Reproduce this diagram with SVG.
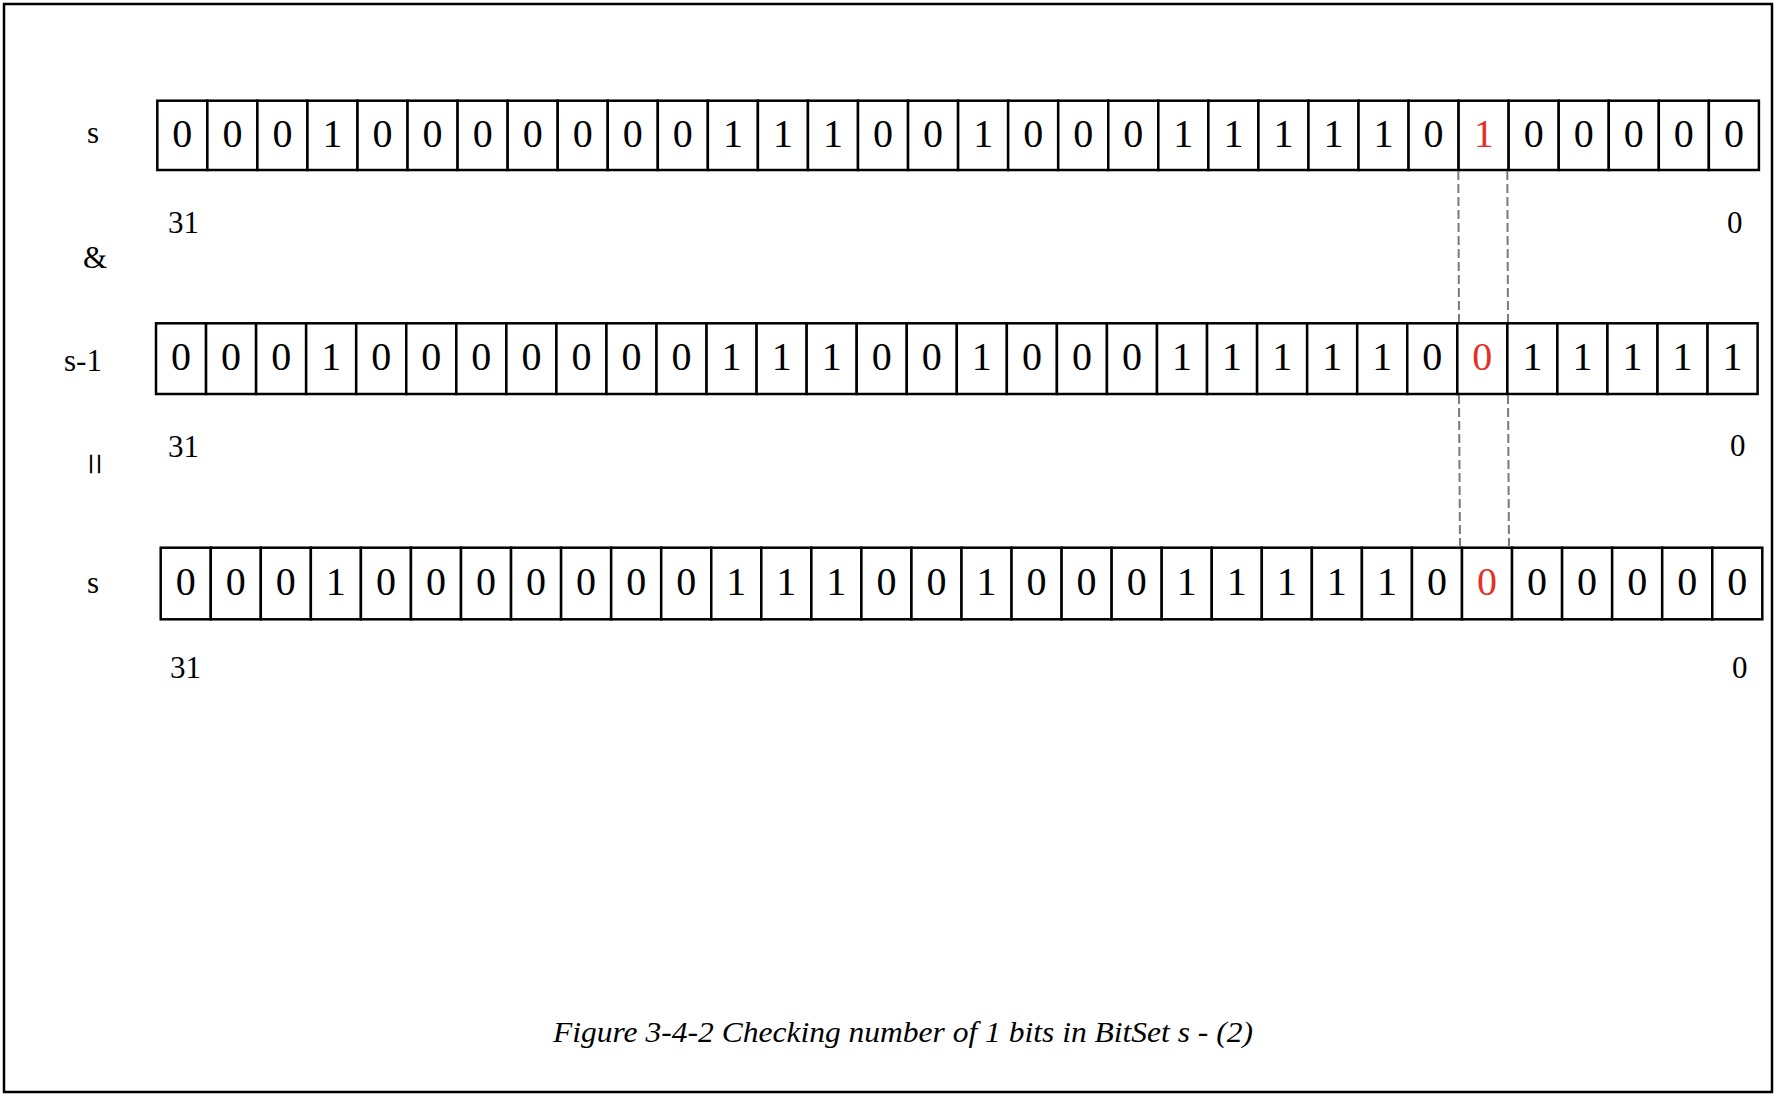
<svg xmlns="http://www.w3.org/2000/svg" xmlns:xlink="http://www.w3.org/1999/xlink" width="1776" height="1096" viewBox="0 0 1776 1096">
<style>
.cell{fill:#fff;stroke:#000;stroke-width:2.5}
.bit{font-family:"Liberation Serif","Times New Roman",serif;font-size:40px;fill:#000;text-anchor:middle}
.red{fill:#e53027}
.lbl{font-family:"Liberation Serif","Times New Roman",serif;font-size:31px;fill:#000}
.dash{stroke:#7a7a7a;stroke-width:2;stroke-dasharray:9 4;fill:none}
.cap{font-family:"Liberation Serif","Times New Roman",serif;font-size:30px;font-style:italic;fill:#000}
</style>
<defs>
<rect id="cA" class="cell" width="50.05" height="69.3"/>
<rect id="cB" class="cell" width="50.05" height="70.7"/>
<rect id="cC" class="cell" width="50.05" height="71.6"/>
</defs>
<rect x="0" y="0" width="1776" height="1096" fill="#fff"/>
<rect x="4" y="4" width="1768" height="1088" fill="none" stroke="#000" stroke-width="2.5"/>

<g id="row-s">
<text class="lbl" x="87" y="143">s</text>
<text class="lbl" x="168" y="233">31</text>
<text class="lbl" x="1727" y="233">0</text>
<g transform="translate(157.3,100.7)">
<use href="#cA" x="0"/><use href="#cA" x="50.05"/><use href="#cA" x="100.1"/><use href="#cA" x="150.15"/><use href="#cA" x="200.2"/><use href="#cA" x="250.25"/><use href="#cA" x="300.3"/><use href="#cA" x="350.35"/><use href="#cA" x="400.4"/><use href="#cA" x="450.45"/><use href="#cA" x="500.5"/><use href="#cA" x="550.55"/><use href="#cA" x="600.6"/><use href="#cA" x="650.65"/><use href="#cA" x="700.7"/><use href="#cA" x="750.75"/><use href="#cA" x="800.8"/><use href="#cA" x="850.85"/><use href="#cA" x="900.9"/><use href="#cA" x="950.95"/><use href="#cA" x="1001"/><use href="#cA" x="1051.05"/><use href="#cA" x="1101.1"/><use href="#cA" x="1151.15"/><use href="#cA" x="1201.2"/><use href="#cA" x="1251.25"/><use href="#cA" x="1301.3"/><use href="#cA" x="1351.35"/><use href="#cA" x="1401.4"/><use href="#cA" x="1451.45"/><use href="#cA" x="1501.5"/><use href="#cA" x="1551.55"/>
<g class="bit" transform="translate(0,46.3)">
<text x="25.03">0</text><text x="75.08">0</text><text x="125.13">0</text><text x="175.18">1</text><text x="225.23">0</text><text x="275.28">0</text><text x="325.33">0</text><text x="375.38">0</text><text x="425.43">0</text><text x="475.48">0</text><text x="525.53">0</text><text x="575.58">1</text><text x="625.63">1</text><text x="675.68">1</text><text x="725.73">0</text><text x="775.78">0</text><text x="825.83">1</text><text x="875.88">0</text><text x="925.93">0</text><text x="975.98">0</text><text x="1026.03">1</text><text x="1076.08">1</text><text x="1126.13">1</text><text x="1176.18">1</text><text x="1226.23">1</text><text x="1276.28">0</text><text class="red" x="1326.33">1</text><text x="1376.38">0</text><text x="1426.43">0</text><text x="1476.48">0</text><text x="1526.53">0</text><text x="1576.58">0</text>
</g>
</g>
</g>

<g id="op-and">
<text class="lbl" x="83" y="268">&amp;</text>
</g>

<g id="row-s-1">
<text class="lbl" x="64" y="371">s-1</text>
<text class="lbl" x="168" y="457">31</text>
<text class="lbl" x="1730" y="456">0</text>
<g transform="translate(156,323.3)">
<use href="#cB" x="0"/><use href="#cB" x="50.05"/><use href="#cB" x="100.1"/><use href="#cB" x="150.15"/><use href="#cB" x="200.2"/><use href="#cB" x="250.25"/><use href="#cB" x="300.3"/><use href="#cB" x="350.35"/><use href="#cB" x="400.4"/><use href="#cB" x="450.45"/><use href="#cB" x="500.5"/><use href="#cB" x="550.55"/><use href="#cB" x="600.6"/><use href="#cB" x="650.65"/><use href="#cB" x="700.7"/><use href="#cB" x="750.75"/><use href="#cB" x="800.8"/><use href="#cB" x="850.85"/><use href="#cB" x="900.9"/><use href="#cB" x="950.95"/><use href="#cB" x="1001"/><use href="#cB" x="1051.05"/><use href="#cB" x="1101.1"/><use href="#cB" x="1151.15"/><use href="#cB" x="1201.2"/><use href="#cB" x="1251.25"/><use href="#cB" x="1301.3"/><use href="#cB" x="1351.35"/><use href="#cB" x="1401.4"/><use href="#cB" x="1451.45"/><use href="#cB" x="1501.5"/><use href="#cB" x="1551.55"/>
<g class="bit" transform="translate(0,46.7)">
<text x="25.03">0</text><text x="75.08">0</text><text x="125.13">0</text><text x="175.18">1</text><text x="225.23">0</text><text x="275.28">0</text><text x="325.33">0</text><text x="375.38">0</text><text x="425.43">0</text><text x="475.48">0</text><text x="525.53">0</text><text x="575.58">1</text><text x="625.63">1</text><text x="675.68">1</text><text x="725.73">0</text><text x="775.78">0</text><text x="825.83">1</text><text x="875.88">0</text><text x="925.93">0</text><text x="975.98">0</text><text x="1026.03">1</text><text x="1076.08">1</text><text x="1126.13">1</text><text x="1176.18">1</text><text x="1226.23">1</text><text x="1276.28">0</text><text class="red" x="1326.33">0</text><text x="1376.38">1</text><text x="1426.43">1</text><text x="1476.48">1</text><text x="1526.53">1</text><text x="1576.58">1</text>
</g>
</g>
</g>

<g id="op-eq">
<text class="lbl" text-anchor="middle" style="font-size:40px" transform="translate(91,464) rotate(90)" dy="10">=</text>
</g>

<g id="row-result">
<text class="lbl" x="87" y="593">s</text>
<text class="lbl" x="170" y="678">31</text>
<text class="lbl" x="1732" y="678">0</text>
<g transform="translate(160.7,547.7)">
<use href="#cC" x="0"/><use href="#cC" x="50.05"/><use href="#cC" x="100.1"/><use href="#cC" x="150.15"/><use href="#cC" x="200.2"/><use href="#cC" x="250.25"/><use href="#cC" x="300.3"/><use href="#cC" x="350.35"/><use href="#cC" x="400.4"/><use href="#cC" x="450.45"/><use href="#cC" x="500.5"/><use href="#cC" x="550.55"/><use href="#cC" x="600.6"/><use href="#cC" x="650.65"/><use href="#cC" x="700.7"/><use href="#cC" x="750.75"/><use href="#cC" x="800.8"/><use href="#cC" x="850.85"/><use href="#cC" x="900.9"/><use href="#cC" x="950.95"/><use href="#cC" x="1001"/><use href="#cC" x="1051.05"/><use href="#cC" x="1101.1"/><use href="#cC" x="1151.15"/><use href="#cC" x="1201.2"/><use href="#cC" x="1251.25"/><use href="#cC" x="1301.3"/><use href="#cC" x="1351.35"/><use href="#cC" x="1401.4"/><use href="#cC" x="1451.45"/><use href="#cC" x="1501.5"/><use href="#cC" x="1551.55"/>
<g class="bit" transform="translate(0,47.3)">
<text x="25.03">0</text><text x="75.08">0</text><text x="125.13">0</text><text x="175.18">1</text><text x="225.23">0</text><text x="275.28">0</text><text x="325.33">0</text><text x="375.38">0</text><text x="425.43">0</text><text x="475.48">0</text><text x="525.53">0</text><text x="575.58">1</text><text x="625.63">1</text><text x="675.68">1</text><text x="725.73">0</text><text x="775.78">0</text><text x="825.83">1</text><text x="875.88">0</text><text x="925.93">0</text><text x="975.98">0</text><text x="1026.03">1</text><text x="1076.08">1</text><text x="1126.13">1</text><text x="1176.18">1</text><text x="1226.23">1</text><text x="1276.28">0</text><text class="red" x="1326.33">0</text><text x="1376.38">0</text><text x="1426.43">0</text><text x="1476.48">0</text><text x="1526.53">0</text><text x="1576.58">0</text>
</g>
</g>
</g>

<g id="connectors">
<line class="dash" x1="1458.3" y1="171" x2="1459" y2="322"/>
<line class="dash" x1="1507.3" y1="171" x2="1508" y2="322"/>
<line class="dash" x1="1459" y1="395" x2="1460" y2="546.5"/>
<line class="dash" x1="1508" y1="395" x2="1509" y2="546.5"/>
</g>

<g id="caption">
<text class="cap" x="553" y="1042" textLength="700" lengthAdjust="spacingAndGlyphs">Figure 3-4-2 Checking number of 1 bits in BitSet s - (2)</text>
</g>
</svg>
